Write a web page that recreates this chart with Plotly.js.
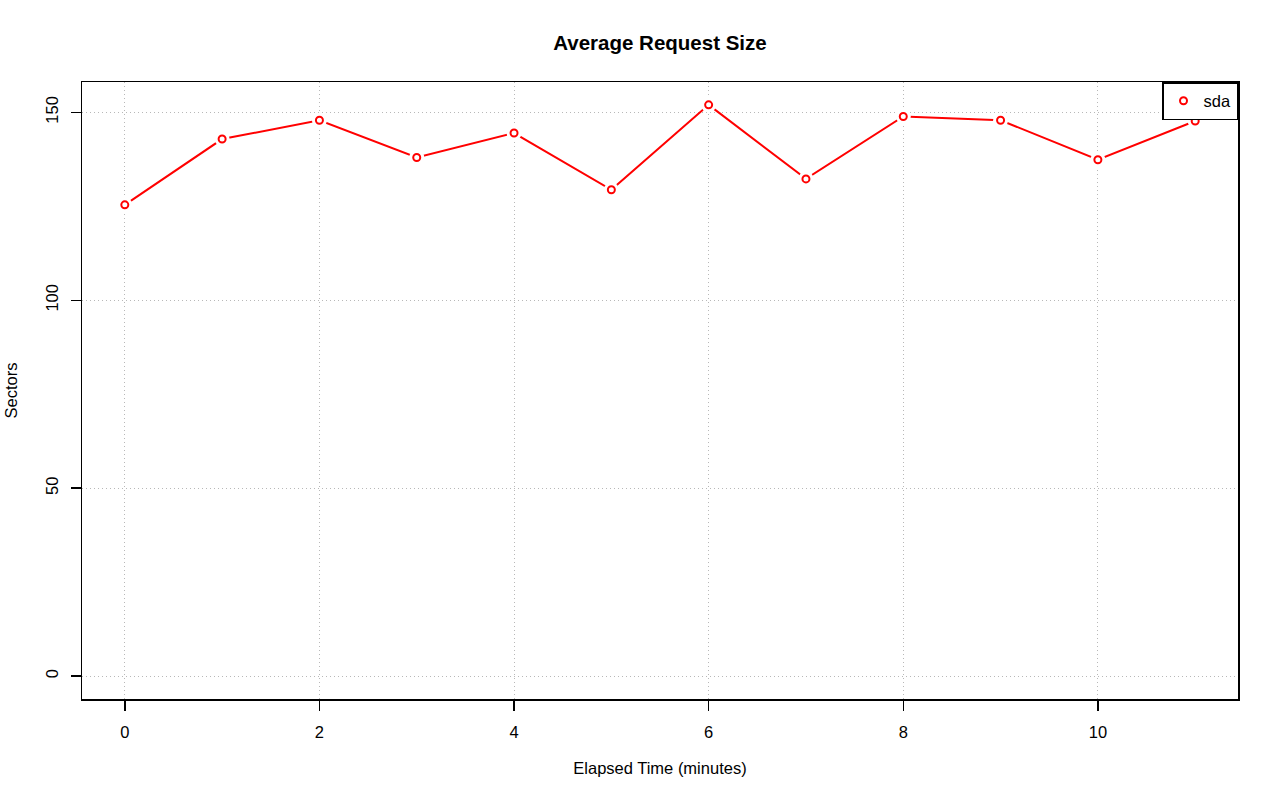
<!DOCTYPE html>
<html>
<head>
<meta charset="utf-8">
<script src="https://cdn.plot.ly/plotly-3.0.1.min.js"></script>
<style>html,body{margin:0;padding:0;background:#fff;}#chart{width:1280px;height:801px;}</style>
</head>
<body>
<div id="chart"></div>
<script>
const minutes = [0, 1, 2, 3, 4, 5, 6, 7, 8, 9, 10, 11];
const sdaSectors = [125.4, 142.9, 147.9, 138.0, 144.5, 129.4, 152.0, 132.3, 148.9, 147.9, 137.4, 147.7];
const seriesName = "sda";
const xTicks = [0, 2, 4, 6, 8, 10];
const yTicks = [0, 50, 100, 150];

const FONT = "Liberation Sans, Arial, Helvetica, sans-serif";
const TXT = 16.5;

const traces = [
  {x: minutes, y: sdaSectors, mode: "lines", line: {color: "#ff0000", width: 2}, showlegend: false, hoverinfo: "skip"},
  {x: minutes, y: sdaSectors, mode: "markers", marker: {symbol: "circle", size: 15, color: "#ffffff", line: {width: 0}}, showlegend: false, hoverinfo: "skip"},
  {x: minutes, y: sdaSectors, mode: "markers", name: seriesName,
   marker: {symbol: "circle-open", size: 7, color: "#ff0000", line: {width: 2, color: "#ff0000"}}}
];

const layout = {
  width: 1280, height: 801,
  paper_bgcolor: "#ffffff", plot_bgcolor: "#ffffff",
  margin: {l: 82, r: 42, t: 82, b: 102, pad: 0},
  font: {family: FONT, size: TXT, color: "#000000"},
  title: {text: "<b>Average Request Size</b>", font: {family: FONT, size: 20.5, color: "#000"},
          x: 0.5, xanchor: "center", xref: "paper", yref: "container", y: 1 - 43/801, yanchor: "middle"},
  xaxis: {
    range: [-0.44, 11.44], tickvals: xTicks, ticktext: xTicks.map(String),
    ticks: "outside", ticklen: 10, tickwidth: 1.5, tickcolor: "#000", ticklabelstandoff: 8,
    showline: true, linecolor: "#000", linewidth: 1.5, mirror: true,
    showgrid: true, gridcolor: "#b8b8b8", gridwidth: 1, griddash: "1px,3px",
    zeroline: false, tickfont: {size: TXT},
    title: {text: "Elapsed Time (minutes)", font: {size: TXT}, standoff: 22}
  },
  yaxis: {
    range: [-6.08, 158.08], tickvals: yTicks, ticktext: yTicks.map(String),
    ticks: "outside", ticklen: 10, tickwidth: 1.5, tickcolor: "#000", tickangle: -90, ticklabelstandoff: 6,
    showline: true, linecolor: "#000", linewidth: 1.5, mirror: true,
    showgrid: true, gridcolor: "#b8b8b8", gridwidth: 1, griddash: "1px,3px",
    zeroline: false, tickfont: {size: TXT},
    title: {text: "Sectors", font: {size: TXT}, standoff: 21}
  },
  legend: {x: 1, y: 1, xanchor: "right", yanchor: "top", bgcolor: "#ffffff",
           bordercolor: "#000", borderwidth: 1.5, font: {size: TXT}, itemwidth: 30},
  showlegend: true
};

Plotly.newPlot("chart", traces, layout, {displayModeBar: false, staticPlot: true});
</script>
</body>
</html>
